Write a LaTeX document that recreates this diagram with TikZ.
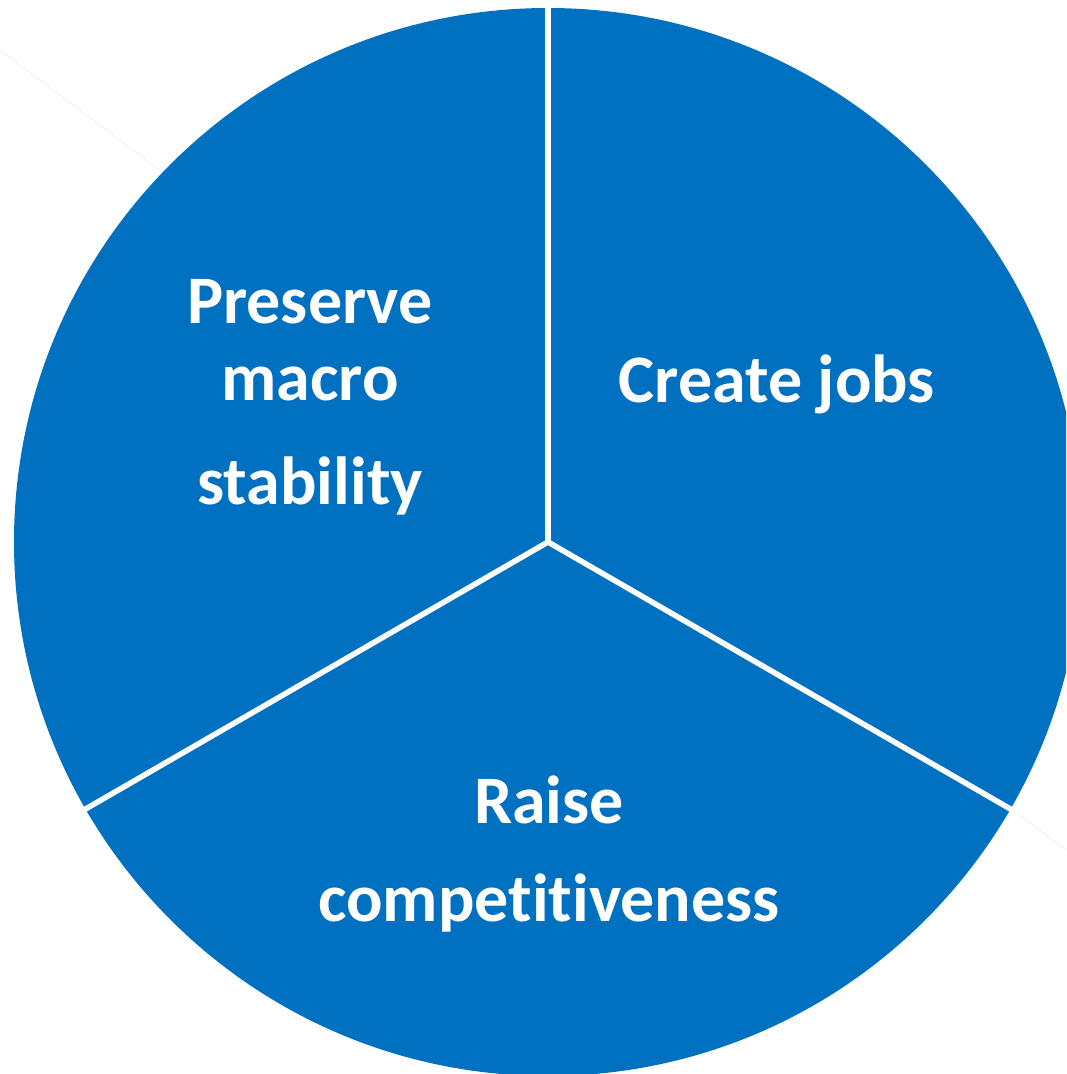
\documentclass[tikz,border=0pt]{standalone}
\usepackage{fontspec}
\setmainfont{Carlito}[Ligatures={NoCommon,NoDiscretionary,NoRare}]
\definecolor{pieblue}{HTML}{0070C0}
\begin{document}
\begin{tikzpicture}[x=1pt,y=-1pt,
  lbl/.style={text=white,font=\bfseries\fontsize{68}{80}\selectfont,anchor=base,inner sep=0pt},
  divider/.style={white,line width=5.5pt}]
\useasboundingbox (0,0) rectangle (1066,1074);
\clip (0,0) rectangle (1066,1074);
\coordinate (tl) at (0,50);
\coordinate (br) at (1066,850);
\draw[black!5,line width=1pt] (tl) -- (br);
\coordinate (c) at (548,542);
\fill[pieblue] (c) circle[radius=534pt];
\draw[divider] (c) -- ++(90:545pt);
\draw[divider] (c) -- ++(210:545pt);
\draw[divider] (c) -- ++(330:545pt);
\node[lbl] (p1) at (310,323) {Preserve};
\node[lbl] (p2) at (310,400) {macro};
\node[lbl] (p3) at (310,504) {stability};
\node[lbl] (cj) at (777,402) {Create jobs};
\node[lbl] (r1) at (549,823) {Raise};
\node[lbl] (r2) at (549,921) {competitiveness};
\end{tikzpicture}
\end{document}
